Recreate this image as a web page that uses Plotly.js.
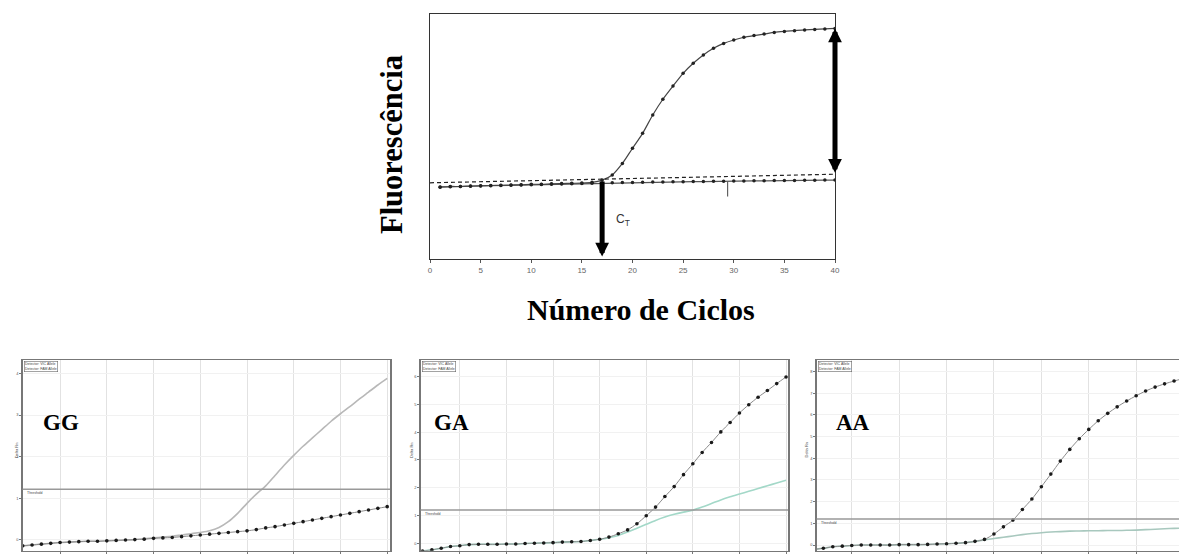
<!DOCTYPE html>
<html><head><meta charset="utf-8">
<script src="https://cdn.plot.ly/plotly-3.0.1.min.js"></script>
<style>html,body{margin:0;padding:0;background:#fff}#chart{width:1179px;height:554px}</style>
</head><body><div id="chart"></div>
<script>
// ---------- DATA ----------
const cycles = [1,2,3,4,5,6,7,8,9,10,11,12,13,14,15,16,17,18,19,20,21,22,23,24,25,26,27,28,29,30,31,32,33,34,35,36,37,38,39,40];

// top schematic chart
const topCurve = [29.4,29.6,29.6,29.8,29.9,30.0,30.1,30.2,30.3,30.5,30.5,30.7,30.8,30.9,31.0,31.3,32.2,34.3,39.0,45.2,51.3,58.8,65.2,70.6,75.8,79.9,83.3,86.0,88.0,89.4,90.5,91.2,91.8,92.5,92.9,93.2,93.5,93.7,93.9,94.1];
const topBaseline = [29.3,29.5,29.6,29.7,29.8,29.9,30.0,30.1,30.2,30.3,30.4,30.5,30.6,30.7,30.8,30.9,31.0,31.1,31.2,31.2,31.3,31.4,31.4,31.5,31.5,31.6,31.6,31.7,31.7,31.8,31.8,31.9,31.9,32.0,32.0,32.0,32.1,32.1,32.2,32.2];
const topThresholdX = [0, 40];
const topThresholdY = [31.1, 34.6];
const smallMarkX = [29.4, 29.4];
const smallMarkY = [25.5, 31.5];
const ctCycle = 17;
const topTicks = [0,5,10,15,20,25,30,35,40];

// bottom panels
const ggDots  = [-0.14,-0.12,-0.10,-0.08,-0.06,-0.05,-0.04,-0.03,-0.03,-0.02,-0.01,0.00,0.01,0.02,0.04,0.05,0.06,0.08,0.10,0.12,0.14,0.16,0.18,0.20,0.22,0.25,0.29,0.32,0.36,0.40,0.44,0.48,0.52,0.56,0.60,0.64,0.68,0.72,0.76,0.80];
const ggCurve = [-0.14,-0.12,-0.10,-0.08,-0.06,-0.05,-0.04,-0.03,-0.03,-0.02,-0.01,0.00,0.01,0.03,0.05,0.07,0.09,0.12,0.15,0.18,0.22,0.30,0.44,0.64,0.88,1.10,1.30,1.55,1.80,2.03,2.25,2.45,2.65,2.85,3.03,3.20,3.38,3.55,3.72,3.88];
const ggThreshold = 1.22;

const gaDots  = [-0.28,-0.24,-0.18,-0.12,-0.09,-0.05,-0.04,-0.04,-0.04,-0.03,-0.03,-0.01,0.00,0.01,0.02,0.04,0.05,0.06,0.10,0.14,0.22,0.34,0.48,0.70,0.99,1.30,1.68,2.04,2.47,2.86,3.27,3.63,4.01,4.35,4.69,4.99,5.26,5.50,5.75,5.99];
const gaCurve = [-0.28,-0.24,-0.18,-0.12,-0.09,-0.05,-0.04,-0.04,-0.04,-0.03,-0.03,-0.01,0.00,0.01,0.02,0.04,0.05,0.06,0.10,0.14,0.20,0.28,0.40,0.54,0.68,0.82,0.94,1.04,1.12,1.19,1.30,1.43,1.56,1.67,1.77,1.87,1.97,2.07,2.17,2.27];
const gaThreshold = 1.20;

const aaDots  = [-0.20,-0.15,-0.08,-0.05,-0.02,0.00,0.00,0.00,0.00,0.02,0.02,0.02,0.03,0.05,0.06,0.08,0.11,0.17,0.26,0.51,0.84,1.15,1.64,2.12,2.69,3.27,3.87,4.41,4.90,5.33,5.73,6.07,6.37,6.64,6.88,7.10,7.28,7.43,7.56,7.68];
const aaCurve = [-0.20,-0.15,-0.08,-0.05,-0.02,0.00,0.00,0.00,0.00,0.02,0.02,0.02,0.03,0.05,0.06,0.08,0.11,0.17,0.24,0.30,0.36,0.42,0.48,0.53,0.57,0.60,0.62,0.64,0.65,0.66,0.66,0.67,0.67,0.68,0.69,0.71,0.73,0.75,0.77,0.78];
const aaThreshold = 1.20;

const bottomXTicks = [5,10,15,20,25,30,35,40];
const ggYTicks = [0,1,2,3,4];
const gaYTicks = [0,1,2,3,4,5,6];
const aaYTicks = [0,1,2,3,4,5,6,7,8];
const panelLabels = ['GG','GA','AA'];
const legendText = 'Detector: VIC Allele<br>Detector: FAM Allele';

// ---------- LAYOUT HELPERS ----------
const W = 1179, H = 554;
const px = v => v / W;
const py = v => 1 - v / H;

const serifBold = {family: 'Liberation Serif, Times New Roman, serif', color: '#000'};

const traces = [];
// top chart
traces.push({x: cycles, y: topBaseline, xaxis: 'x', yaxis: 'y', mode: 'lines+markers',
  line: {color: '#555', width: 1.2}, marker: {size: 3.5, color: '#222'}});
traces.push({x: cycles, y: topCurve, xaxis: 'x', yaxis: 'y', mode: 'lines+markers',
  line: {color: '#444', width: 1.2, shape: 'spline', smoothing: 0.8}, marker: {size: 3.5, color: '#222'}});
traces.push({x: topThresholdX, y: topThresholdY, xaxis: 'x', yaxis: 'y', mode: 'lines',
  line: {color: '#222', width: 1.2, dash: '4px,3px'}});
traces.push({x: smallMarkX, y: smallMarkY, xaxis: 'x', yaxis: 'y', mode: 'lines',
  line: {color: '#444', width: 1}});

// bottom panels
const panels = [
  {ax: '2', dots: ggDots, curve: ggCurve, thr: ggThreshold, color: '#b8b8b8'},
  {ax: '3', dots: gaDots, curve: gaCurve, thr: gaThreshold, color: '#a3d8c8'},
  {ax: '4', dots: aaDots, curve: aaCurve, thr: aaThreshold, color: '#a8c8be'}
];
panels.forEach(p => {
  traces.push({x: cycles, y: p.curve, xaxis: 'x' + p.ax, yaxis: 'y' + p.ax, mode: 'lines',
    line: {color: p.color, width: 1.6, shape: 'spline', smoothing: 0.8}});
  traces.push({x: cycles, y: p.dots, xaxis: 'x' + p.ax, yaxis: 'y' + p.ax, mode: 'lines+markers',
    line: {color: '#8a8a8a', width: 1, shape: 'spline', smoothing: 0.8}, marker: {size: 3.6, color: '#1a1a1a'}});
});

const bottomX = (dom, range, mirror) => ({
  domain: dom, range: range, showgrid: true, gridcolor: '#e2e2e2', gridwidth: 1,
  tickvals: bottomXTicks, showticklabels: false, ticks: 'outside', ticklen: 3, tickcolor: '#777',
  showline: true, linecolor: '#777', linewidth: 1.5, mirror: mirror, zeroline: false, fixedrange: true
});
const bottomY = (dom, range, ticks, mirror) => ({
  domain: dom, range: range, showgrid: true, gridcolor: '#f1f1f1', gridwidth: 1,
  tickvals: ticks, ticktext: ticks.map(String), tickfont: {size: 4, color: '#555', family: 'Liberation Sans, Arial'},
  ticks: 'outside', ticklen: 2, tickcolor: '#777',
  showline: true, linecolor: '#777', linewidth: 1.5, mirror: mirror, zeroline: false, fixedrange: true
});

const botDom = [py(550.7), py(360)];
const layout = {
  width: W, height: H, margin: {l: 0, r: 0, t: 0, b: 0},
  paper_bgcolor: '#fff', plot_bgcolor: '#fff', showlegend: false, hovermode: false,
  xaxis: {domain: [px(430), px(835)], range: [0, 40], anchor: 'y', tickvals: topTicks,
    tickfont: {size: 8, color: '#666', family: 'Liberation Sans, Arial'}, ticks: 'outside', ticklen: 3, tickcolor: '#555',
    showline: true, linecolor: '#333', linewidth: 1.3, mirror: true, showgrid: false, zeroline: false},
  yaxis: {domain: [py(259), py(14)], range: [0, 100], anchor: 'x', showticklabels: false, ticks: '',
    showline: true, linecolor: '#333', linewidth: 1.3, mirror: true, showgrid: false, zeroline: false},
  xaxis2: Object.assign(bottomX([px(22.7), px(390)], [1, 40.3], true), {anchor: 'y2'}),
  yaxis2: Object.assign(bottomY(botDom, [-0.257, 4.32], ggYTicks, true), {anchor: 'x2'}),
  xaxis3: Object.assign(bottomX([px(420.7), px(788)], [0.8, 40.21], true), {anchor: 'y3'}),
  yaxis3: Object.assign(bottomY(botDom, [-0.27, 6.6], gaYTicks, true), {anchor: 'x3'}),
  xaxis4: Object.assign(bottomX([px(816.7), 1], [1.3, 39.52], true), {anchor: 'y4'}),
  yaxis4: Object.assign(bottomY(botDom, [-0.26, 8.53], aaYTicks, false), {anchor: 'x4'}),
  shapes: [],
  annotations: []
};

// top annotations
const n = cycles.length - 1;
layout.annotations.push({xref: 'x', yref: 'y', axref: 'x', ayref: 'y',
  x: cycles[n], y: topCurve[n], ax: cycles[n], ay: topThresholdY[1],
  showarrow: true, arrowside: 'end+start', arrowhead: 2, arrowsize: 0.55, arrowwidth: 5, arrowcolor: '#000', text: ''});
layout.annotations.push({xref: 'x', yref: 'y', axref: 'x', ayref: 'y',
  x: ctCycle, y: 1, ax: ctCycle, ay: topCurve[ctCycle - 1],
  showarrow: true, arrowhead: 2, arrowsize: 0.55, arrowwidth: 5, arrowcolor: '#000', text: ''});
layout.annotations.push({xref: 'x', yref: 'y', x: ctCycle + 1.2, y: 16, xanchor: 'left', yanchor: 'middle',
  text: 'C<sub>T</sub>', showarrow: false, font: {family: 'Liberation Sans, Arial', size: 12, color: '#333'}});
layout.annotations.push({xref: 'paper', yref: 'paper', x: px(392), y: py(144), textangle: -90,
  text: '<b>Fluorescência</b>', showarrow: false, xanchor: 'center', yanchor: 'middle',
  font: Object.assign({size: 30.5}, serifBold)});
layout.annotations.push({xref: 'paper', yref: 'paper', x: px(641), y: py(309),
  text: '<b>Número de Ciclos</b>', showarrow: false, xanchor: 'center', yanchor: 'middle',
  font: Object.assign({size: 30}, serifBold)});

// bottom annotations / shapes
const labelPos = [0.103, 0.0825, 0.099];
const yTitleX = [11.7, 411, 810];
panels.forEach((p, i) => {
  layout.shapes.push({type: 'line', xref: 'x' + p.ax + ' domain', yref: 'y' + p.ax,
    x0: 0, x1: 1, y0: p.thr, y1: p.thr, line: {color: '#999', width: 1.5}});
  layout.annotations.push({xref: 'x' + p.ax + ' domain', yref: 'y' + p.ax, x: 0.006, y: p.thr,
    xanchor: 'left', yanchor: 'top', text: 'Threshold', showarrow: false,
    font: {size: 3.5, color: '#444', family: 'Liberation Sans, Arial'}});
  layout.annotations.push({xref: 'x' + p.ax + ' domain', yref: 'y' + p.ax + ' domain',
    x: labelPos[i], y: 0.672, xanchor: 'center', yanchor: 'middle', text: '<b>' + panelLabels[i] + '</b>',
    showarrow: false, font: Object.assign({size: 23}, serifBold)});
  layout.annotations.push({xref: 'x' + p.ax + ' domain', yref: 'y' + p.ax + ' domain',
    x: 0.003, y: 0.997, xanchor: 'left', yanchor: 'top', text: legendText, align: 'left',
    showarrow: false, bordercolor: '#666', borderwidth: 0.6, borderpad: 0.5, bgcolor: '#fff',
    font: {size: 3.5, color: '#444', family: 'Liberation Sans, Arial'}});
  layout.annotations.push({xref: 'paper', yref: 'paper', x: px(yTitleX[i]), y: py(460), textangle: -90,
    text: 'Delta Rn', showarrow: false, font: {size: 4, color: '#555', family: 'Liberation Sans, Arial'}});
});

Plotly.newPlot('chart', traces, layout, {staticPlot: true, displayModeBar: false});
</script>
</body></html>
